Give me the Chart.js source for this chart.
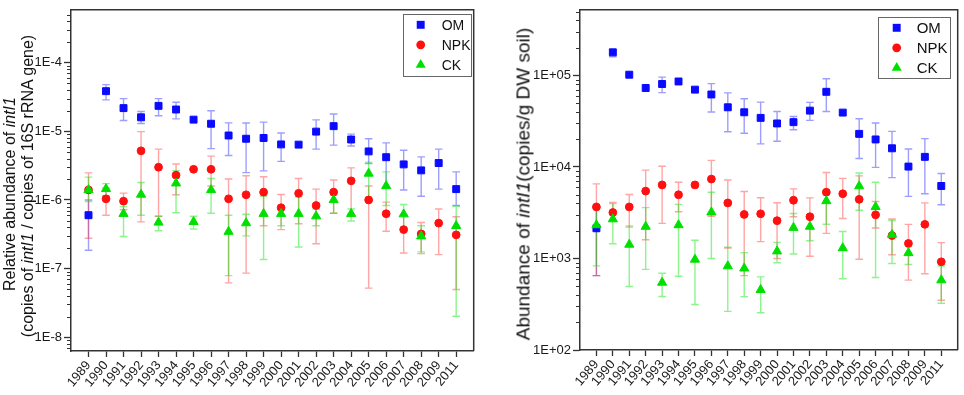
<!DOCTYPE html>
<html>
<head>
<meta charset="utf-8">
<script src="https://cdn.jsdelivr.net/npm/chart.js@4.4.1/dist/chart.umd.min.js"></script>
<style>
    body { margin: 0; background: #fff; font-family: "Liberation Sans", Arial, sans-serif; }
    #page { position: relative; width: 964px; height: 395px; overflow: hidden; }
    #leftChart { position: absolute; left: 0; top: 0; }
    #rightChart { position: absolute; left: 480px; top: 0; }
    .ytitle {
        position: absolute;
        white-space: nowrap;
        color: #111;
        transform: translate(-50%, -50%) rotate(-90deg);
    }
</style>
</head>
<body>
<div id="page">
    <canvas id="leftChart" width="480" height="395"></canvas>
    <canvas id="rightChart" width="484" height="395"></canvas>
    <div class="ytitle" style="left:10px; top:194px; font-size:16px; line-height:16px;">Relative abundance of <i>intI1</i></div>
    <div class="ytitle" style="left:28px; top:186px; font-size:16px; line-height:16px;">(copies of <i>intI1</i> / copies of 16S rRNA gene)</div>
    <div class="ytitle" style="left:523px; top:184px; font-size:19px; line-height:19px;">Abundance of <i>intI1</i>(copies/g DW soil)</div>
</div>
<script>
const years = ["1989", "1990", "1991", "1992", "1993", "1994", "1995", "1996", "1997", "1998", "1999",
    "2000", "2001", "2002", "2003", "2004", "2005", "2006", "2007", "2008", "2009", "2011"];

// Left panel: relative abundance (copies intI1 / copies 16S rRNA)
const relOM = [6.0e-7, 3.85e-5, 2.18e-5, 1.6e-5, 2.35e-5, 2.08e-5, 1.48e-5, 1.29e-5, 8.7e-6, 7.8e-6, 8.0e-6,
    6.45e-6, 6.4e-6, 9.9e-6, 1.19e-5, 7.6e-6, 5.1e-6, 4.2e-6, 3.3e-6, 2.7e-6, 3.45e-6, 1.44e-6];
const relOMHi = [1.0e-6, 4.8e-5, 3.0e-5, 1.95e-5, 3.0e-5, 2.65e-5, null, 2.0e-5, 1.33e-5, 1.32e-5, 1.36e-5,
    9.45e-6, null, 1.47e-5, 1.79e-5, 9.1e-6, 7.8e-6, 6.8e-6, 5.3e-6, 4.25e-6, 5.5e-6, 2.57e-6];
const relOMLo = [1.85e-7, 2.87e-5, 1.44e-5, 1.3e-5, 1.69e-5, 1.52e-5, null, 5.6e-6, 4.45e-6, 2.5e-6, 2.65e-6,
    3.65e-6, null, 5.5e-6, 6.3e-6, 6.1e-6, 3.4e-6, 1.5e-6, 1.4e-6, 1.13e-6, 1.44e-6, 8.3e-7];

const relNPK = [1.4e-6, 1.04e-6, 9.6e-7, 5.2e-6, 3.0e-6, 2.3e-6, 2.8e-6, 2.8e-6, 1.04e-6, 1.19e-6, 1.3e-6,
    7.7e-7, 1.25e-6, 8.3e-7, 1.3e-6, 1.9e-6, 1.0e-6, 6.3e-7, 3.7e-7, 3.2e-7, 4.6e-7, 3.1e-7];
const relNPKHi = [2.48e-6, 1.5e-6, 1.26e-6, 9.9e-6, 5.5e-6, 3.34e-6, null, 4.35e-6, 2.02e-6, 2.25e-6, 2.18e-6,
    1.2e-6, 2.06e-6, 1.44e-6, 1.95e-6, 2.93e-6, 1.6e-6, 9.3e-7, 6.0e-7, 4.7e-7, 7.4e-7, 5.7e-7];
const relNPKLo = [2.77e-7, 6.0e-7, 7.2e-7, 4.8e-7, 5.8e-7, 1.19e-6, null, 1.6e-6, 6.2e-8, 8.6e-8, 4.2e-7,
    3.7e-7, 4.5e-7, 2.3e-7, 6.4e-7, 6.2e-7, 5.2e-8, 3.5e-7, 1.69e-7, 1.65e-7, 1.6e-7, 4.95e-8];

const relCK = [1.4e-6, 1.45e-6, 6.3e-7, 1.2e-6, 4.7e-7, 1.75e-6, 4.8e-7, 1.4e-6, 3.45e-7, 4.6e-7, 6.3e-7,
    6.3e-7, 6.3e-7, 5.8e-7, 1.0e-6, 6.3e-7, 2.43e-6, 1.6e-6, 6.2e-7, 2.96e-7, null, 4.2e-7];
const relCKHi = [2.15e-6, 1.73e-6, 8.0e-7, 1.8e-6, 5.8e-7, 2.68e-6, 5.8e-7, 2.06e-6, 6.0e-7, 6.2e-7, 1.13e-6,
    7.3e-7, 1.1e-6, 7.4e-7, 1.37e-6, 7.4e-7, 3.56e-6, 2.57e-6, 8.6e-7, 4.2e-7, null, 8.1e-7];
const relCKLo = [9.5e-7, 1.15e-6, 2.93e-7, 6.0e-7, 3.56e-7, 6.5e-7, 3.77e-7, 6.4e-7, 7.9e-8, 3.0e-7, 1.36e-7,
    4.2e-7, 2.06e-7, 4.2e-7, 6.4e-7, 4.95e-7, 1.1e-6, 8.3e-7, 3.98e-7, 1.75e-7, null, 2.02e-8];

// Right panel: absolute abundance (copies / g DW soil)
const absOM = [2140, 179000, 102000, 73000, 80700, 86000, 70000, 62000, 44900, 39600, 34400,
    29900, 30900, 41300, 66300, 39300, 23000, 20000, 16000, 10100, 12900, 6200];
const absOMHi = [3600, 189000, null, null, 96000, null, null, 81400, 64600, 55700, 51200,
    40400, 35600, 50800, 92000, null, 33600, 30200, 24500, 15700, 20400, 8500];
const absOMLo = [650, 160000, null, null, 65000, null, null, 39900, 24300, 23400, 17900,
    19100, 25500, 32300, 40400, null, 12400, 9900, 7660, 4770, 5100, 3870];

const absNPK = [3660, 3180, 3660, 5450, 6370, 4970, 6370, 7380, 4050, 3030, 3080,
    2590, 4330, 2860, 5300, 5100, 4430, 3000, 1780, 1460, 2360, 920];
const absNPKHi = [6530, 4100, 5000, 9250, 10200, 6800, null, 11800, 7200, 5400, 4610,
    4070, 5770, 4600, 8700, 7500, 8000, 4200, 2700, 2360, 4050, 1490];
const absNPKLo = [650, 2600, 2200, 1600, 2420, 3240, null, 2900, 1300, 650, 1530,
    1000, 2860, 1060, 1880, 2740, 980, 2150, 1100, 580, 680, 350];

const absCK = [2320, 2690, 1420, 2230, 546, 2320, 975, 3200, 825, 780, 455,
    1200, 2170, 2230, 4250, 1300, 6170, 3660, 1820, 1150, null, 580];
const absCKHi = [3600, 3980, 2270, 3600, 690, 3900, 1580, 5300, 1330, 1160, 630,
    1500, 3100, 3000, 5500, 1970, 8600, 6800, 2600, 1480, null, 826];
const absCKLo = [830, 1450, 494, 760, 385, 640, 314, 998, 264, 383, 255,
    897, 1120, 1560, 2370, 600, 3370, 620, 880, 860, null, 324];

Chart.defaults.font.family = "'Liberation Sans', Arial, Helvetica, sans-serif";
Chart.defaults.color = "#1a1a1a";

const styles = {
    OM: { shape: "rect", radius: 4.9, color: "#0a0aff", errColor: "rgba(40, 40, 255, 0.45)", order: 3 },
    NPK: { shape: "circle", radius: 3.9, color: "#ff1010", errColor: "rgba(255, 40, 40, 0.42)", order: 2 },
    CK: { shape: "triangle", radius: 5.3, color: "#00e000", errColor: "rgba(0, 230, 0, 0.45)", order: 1 },
};

function isDecade(v) {
    const e = Math.log10(v);
    return Math.abs(e - Math.round(e)) < 1e-6;
}

// 1..9 x 10^n ticks, only the decades get a label
function logTicks(min, max) {
    const ticks = [];
    for (let e = Math.floor(Math.log10(min)); e <= Math.ceil(Math.log10(max)); e++) {
        for (let k = 1; k <= 9; k++) {
            const v = Number((k * Math.pow(10, e)).toPrecision(4));
            if (v >= min && v <= max) ticks.push({ value: v, major: k === 1 });
        }
    }
    return ticks;
}

function series(label, values, hi, lo) {
    const s = styles[label];
    return {
        label: label,
        data: years.map((yr, i) => ({ x: i, y: values[i] })),
        errHi: hi,
        errLo: lo,
        errColor: s.errColor,
        pointStyle: s.shape,
        pointRadius: s.radius,
        pointHoverRadius: s.radius,
        backgroundColor: s.color,
        borderColor: s.color,
        borderWidth: 1,
        order: s.order,
    };
}

// Vertical error bars with caps, drawn under the markers
const errorBars = {
    id: "errorBars",
    beforeDatasetsDraw(chart) {
        const { ctx, scales: { x, y } } = chart;
        chart.data.datasets.forEach((ds) => {
            ctx.save();
            ctx.strokeStyle = ds.errColor;
            ctx.lineWidth = 1.4;
            ds.data.forEach((pt, i) => {
                const hi = ds.errHi[i], lo = ds.errLo[i];
                if (pt.y == null || hi == null || lo == null) return;
                const px = x.getPixelForValue(pt.x);
                const yh = y.getPixelForValue(hi);
                const yl = y.getPixelForValue(lo);
                ctx.beginPath();
                ctx.moveTo(px, yh); ctx.lineTo(px, yl);
                ctx.moveTo(px - 3.8, yh); ctx.lineTo(px + 3.8, yh);
                ctx.moveTo(px - 3.8, yl); ctx.lineTo(px + 3.8, yl);
                ctx.stroke();
            });
            ctx.restore();
        });
    },
};

// Closed box around the plot and short minor ticks on the log axis
const frame = {
    id: "frame",
    afterDraw(chart) {
        const { ctx, chartArea: a, scales: { y } } = chart;
        ctx.save();
        ctx.strokeStyle = "#333";
        ctx.lineWidth = 1.5;
        ctx.beginPath();
        ctx.moveTo(a.left, a.top);
        ctx.lineTo(a.right, a.top);
        ctx.lineTo(a.right, a.bottom);
        ctx.stroke();
        ctx.lineWidth = 1;
        ctx.beginPath();
        y.ticks.forEach((t) => {
            if (isDecade(t.value)) return;
            const py = Math.round(y.getPixelForValue(t.value)) + 0.5;
            ctx.moveTo(a.left - 4, py);
            ctx.lineTo(a.left, py);
        });
        ctx.stroke();
        ctx.restore();
    },
};

function drawMarker(ctx, ds, x, y) {
    const r = ds.pointRadius;
    ctx.fillStyle = ds.backgroundColor;
    ctx.beginPath();
    if (ds.pointStyle === "rect") {
        const h = r * Math.SQRT1_2 + 0.5;
        ctx.rect(x - h, y - h, 2 * h, 2 * h);
    } else if (ds.pointStyle === "circle") {
        ctx.arc(x, y, r + 0.5, 0, Math.PI * 2);
    } else {
        ctx.moveTo(x, y - r - 0.5);
        ctx.lineTo(x + (r + 0.5) * 0.866, y + (r + 0.5) / 2);
        ctx.lineTo(x - (r + 0.5) * 0.866, y + (r + 0.5) / 2);
        ctx.closePath();
    }
    ctx.fill();
}

// Legend in a box at the top right of the plot area
const boxLegend = {
    id: "boxLegend",
    afterDraw(chart, args, o) {
        const { ctx, chartArea: a } = chart;
        const left = a.right - o.right - o.width;
        const top = a.top + o.top;
        ctx.save();
        ctx.fillStyle = "#fff";
        ctx.fillRect(left, top, o.width, o.height);
        ctx.strokeStyle = "#666";
        ctx.lineWidth = 1;
        ctx.strokeRect(Math.round(left) + 0.5, Math.round(top) + 0.5, o.width, o.height);
        ctx.font = o.fontSize + "px 'Liberation Sans', Arial, sans-serif";
        ctx.textBaseline = "middle";
        chart.data.datasets.forEach((ds, i) => {
            const cy = top + o.firstRow + i * o.rowGap;
            drawMarker(ctx, ds, left + o.symbolX, cy);
            ctx.fillStyle = "#111";
            ctx.fillText(ds.label, left + o.textX, cy + 1);
        });
        ctx.restore();
    },
};

function makeChart(canvasId, p) {
    return new Chart(document.getElementById(canvasId), {
        type: "scatter",
        data: {
            datasets: [
                series("OM", p.om, p.omHi, p.omLo),
                series("NPK", p.npk, p.npkHi, p.npkLo),
                series("CK", p.ck, p.ckHi, p.ckLo),
            ],
        },
        options: {
            responsive: false,
            animation: false,
            events: [],
            layout: { padding: p.padding },
            plugins: {
                legend: { display: false },
                tooltip: { enabled: false },
                boxLegend: p.legend,
            },
            scales: {
                x: {
                    type: "linear",
                    min: -1,
                    max: 22,
                    afterBuildTicks: (s) => {
                        s.ticks = years.map((yr, i) => ({ value: i }));
                    },
                    afterFit: (s) => {
                        s.height = p.xHeight;
                    },
                    ticks: {
                        autoSkip: false,
                        minRotation: 50,
                        maxRotation: 50,
                        padding: 1,
                        font: { size: 13 },
                        callback: (v) => years[v] || "",
                    },
                    grid: { drawOnChartArea: false, tickLength: 6, tickWidth: 1.3, tickColor: "#333" },
                    border: { color: "#333", width: 1.5 },
                },
                y: {
                    type: "logarithmic",
                    min: p.yMin,
                    max: p.yMax,
                    afterBuildTicks: (s) => {
                        s.ticks = logTicks(p.yMin, p.yMax);
                    },
                    afterFit: (s) => {
                        s.width = p.yWidth;
                    },
                    ticks: {
                        autoSkip: false,
                        padding: 2,
                        font: { size: 13 },
                        callback: (v) => (isDecade(v) ? p.fmt(v) : ""),
                    },
                    grid: {
                        drawOnChartArea: false,
                        tickLength: 7,
                        tickWidth: 1.3,
                        tickColor: (c) => (c.tick && isDecade(c.tick.value) ? "#333" : "rgba(0,0,0,0)"),
                    },
                    border: { color: "#333", width: 1.5 },
                },
            },
        },
        plugins: [errorBars, frame, boxLegend],
    });
}

const leftChart = makeChart("leftChart", {
    om: relOM, omHi: relOMHi, omLo: relOMLo,
    npk: relNPK, npkHi: relNPKHi, npkLo: relNPKLo,
    ck: relCK, ckHi: relCKHi, ckLo: relCKLo,
    yMin: 6.3e-9,
    yMax: 5.9e-4,
    fmt: (v) => "1E-" + Math.round(-Math.log10(v)),
    padding: { top: 3, right: 1, left: 0, bottom: 0 },
    yWidth: 71,
    xHeight: 44,
    legend: { right: 3, top: 4, width: 68, height: 62, symbolX: 18, textX: 39, firstRow: 11, rowGap: 20, fontSize: 14 },
});

const rightChart = makeChart("rightChart", {
    om: absOM, omHi: absOMHi, omLo: absOMLo,
    npk: absNPK, npkHi: absNPKHi, npkLo: absNPKLo,
    ck: absCK, ckHi: absCKHi, ckLo: absCKLo,
    yMin: 100,
    yMax: 5.22e5,
    fmt: (v) => "1E+" + String(Math.round(Math.log10(v))).padStart(2, "0"),
    padding: { top: 5, right: 5, left: 0, bottom: 0 },
    yWidth: 100,
    xHeight: 45,
    legend: { right: 8, top: 7, width: 72, height: 61, symbolX: 19, textX: 39, firstRow: 11, rowGap: 20, fontSize: 15 },
});
</script>
</body>
</html>
